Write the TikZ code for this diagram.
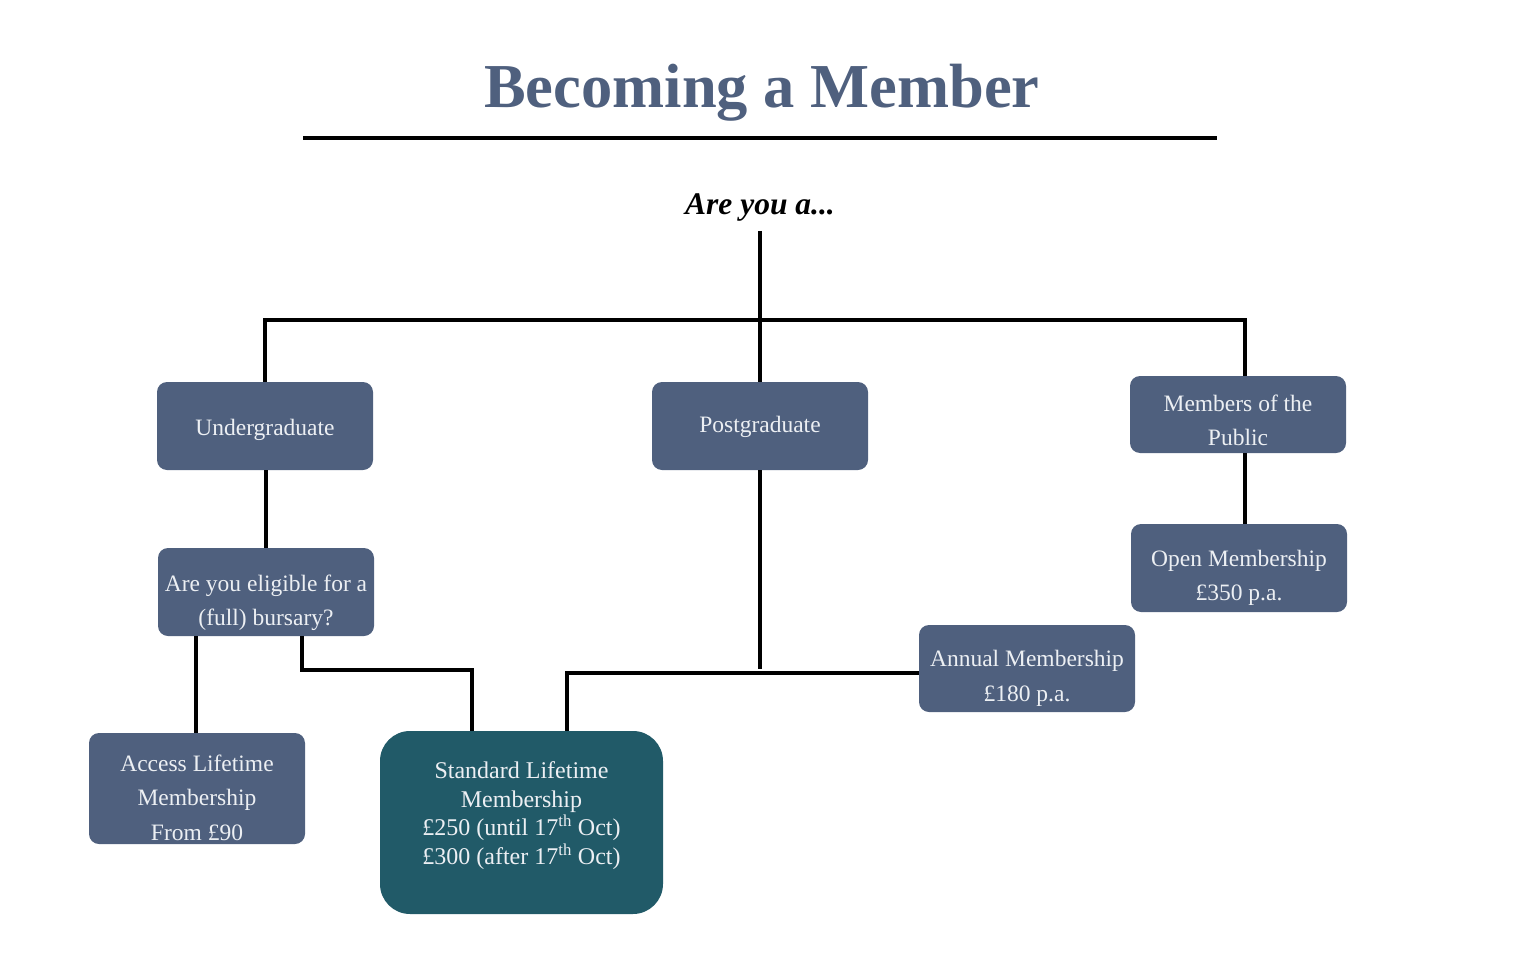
\documentclass[tikz,border=0pt]{standalone}
\usepackage{fontspec}
\setmainfont{Liberation Serif}
\definecolor{slate}{RGB}{79,96,126}
\definecolor{teal2}{RGB}{33,90,104}
\definecolor{boxtext}{RGB}{236,239,243}
\begin{document}
\begin{tikzpicture}[x=1pt,y=-1pt,
  box/.style={fill=slate,rounded corners=10pt,minimum width=216pt,minimum height=88pt,inner sep=0pt},
  boxlabel/.style={text=boxtext,align=center,inner sep=0pt,font=\fontsize{23.5}{34.5}\selectfont},
  conn/.style={line width=4pt,black}]
\useasboundingbox (0,0) rectangle (1513,966);
\node[text=slate,font=\fontsize{62.5}{72}\selectfont\bfseries] (title) at (762,93) {Becoming a Member};
\draw[line width=4pt] (303,138) -- (1217,138);
\node[font=\fontsize{31.5}{34}\selectfont\bfseries\itshape,inner sep=0pt] (q) at (760,207) {Are you a...};
% boxes
\node[box] (ug) at (265,426) {};
\node[box] (pg) at (760,426) {};
\node[box,minimum height=77pt] (pub) at (1238,414.5) {};
\node[box] (open) at (1239,568) {};
\node[box,minimum height=87pt] (ann) at (1027,668.5) {};
\node[box] (el) at (266,592) {};
\node[box,minimum height=111pt] (acc) at (197,788.5) {};
\node[box,fill=teal2,rounded corners=30pt,minimum width=283pt,minimum height=183pt] (std) at (521.5,822.5) {};
% labels
\node[boxlabel] (ugt) at ([yshift=-4pt]ug.center) {Undergraduate};
\node[boxlabel] (pgt) at ([yshift=-1pt]pg.center) {Postgraduate};
\node[boxlabel] (pubt) at ([yshift=-6pt]pub.center) {Members of the\\Public};
\node[boxlabel] (opent) at ([yshift=-10pt]open.center) {Open Membership\\£350 p.a.};
\node[boxlabel] (annt) at ([yshift=-10pt]ann.center) {Annual Membership\\£180 p.a.};
\node[boxlabel] (elt) at ([yshift=-11pt]el.center) {Are you eligible for a\\(full) bursary?};
\node[boxlabel] (acct) at ([yshift=-9pt]acc.center) {Access Lifetime\\Membership\\From £90};
\node[boxlabel,font=\fontsize{24}{28.5}\selectfont] (stdt) at ([yshift=7pt]std.center)
  {Standard Lifetime\\Membership\\£250 (until 17\textsuperscript{th} Oct)\\£300 (after 17\textsuperscript{th} Oct)};
% connectors
\coordinate (j) at (760,320);
\coordinate (k1) at (472,670);
\draw[conn] (q.south)++(0,10) -- (pg.north);
\draw[conn] (ug.north) -- (ug.north |- j) -- ([xshift=7pt]pub.north |- j) -- ([xshift=7pt]pub.north);
\draw[conn] ([xshift=7pt]pub.south) -- ([xshift=7pt]pub.south |- open.north);
\draw[conn] ([xshift=1pt]ug.south) -- ([xshift=1pt]ug.south |- el.north);
\draw[conn] ([xshift=-70pt]el.south) -- ([xshift=-70pt]el.south |- acc.north);
\draw[conn] ([xshift=36pt]el.south) |- (k1) -- (k1 |- std.north);
\draw[conn] (pg.south) -- (pg.south |- ann.west);
\draw[conn] ([yshift=-4pt]ann.west) -| ([xshift=45.5pt]std.north);
\end{tikzpicture}
\end{document}
